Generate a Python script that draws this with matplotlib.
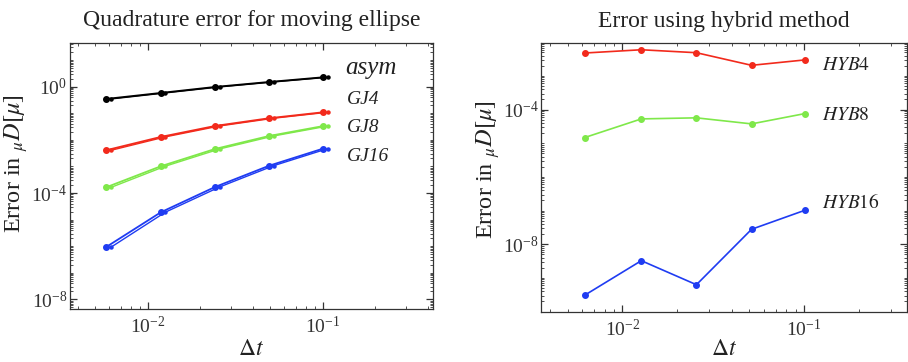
import matplotlib
matplotlib.use('Agg')
import matplotlib.pyplot as plt
from matplotlib.ticker import FixedLocator, NullFormatter, LogLocator

plt.rcParams['font.family'] = ['Liberation Serif', 'DejaVu Serif']
plt.rcParams['mathtext.fontset'] = 'stix'

# ---- data: left panel ----
dt_left = [0.0058, 0.0119, 0.0243, 0.0495, 0.1007]
dt_left_shadow = [0.0062, 0.0126, 0.0258, 0.0525, 0.107]
err_asym = [0.345, 0.58, 0.975, 1.5, 2.25]
err_gj4 = [4.07e-3, 0.0129, 0.0333, 0.065, 0.109]
err_gj8 = [1.65e-4, 1.02e-3, 4.55e-3, 0.014, 0.033]
err_gj16 = [9.4e-7, 1.9e-5, 1.7e-4, 1.07e-3, 4.7e-3]
left_labels = ['asym', 'GJ4', 'GJ8', 'GJ16']

# ---- data: right panel ----
dt_right = [0.00621, 0.01273, 0.0256, 0.0515, 0.101]
err_hyb4 = [4.8e-3, 6.0e-3, 4.9e-3, 2.07e-3, 2.99e-3]
err_hyb8 = [1.48e-5, 5.3e-5, 5.7e-5, 3.77e-5, 7.6e-5]
err_hyb16 = [3.07e-10, 3.26e-9, 6.3e-10, 2.79e-8, 1.02e-7]
right_labels = [r'$\mathit{HYB}4$', r'$\mathit{HYB}8$', r'$\mathit{HYB}16$']

C_BLACK = '#000000'
C_RED = '#f22a1c'
C_GREEN = '#7fe84a'
C_BLUE = '#1f3cf2'

fig = plt.figure(figsize=(9.08, 3.62), dpi=100)
ax1 = fig.add_axes([0.0771, 0.1464, 0.3998, 0.7348])
ax2 = fig.add_axes([0.5961, 0.1373, 0.4031, 0.7431])


def style_axis(ax, ymajor, ydec, ylab_xy):
    ax.set_xscale('log')
    ax.set_yscale('log')
    ax.xaxis.set_major_locator(FixedLocator([1e-2, 1e-1]))
    ax.xaxis.set_minor_locator(LogLocator(base=10, subs=range(2, 10), numticks=20))
    ax.xaxis.set_minor_formatter(NullFormatter())
    ax.yaxis.set_major_locator(FixedLocator(ymajor))
    yminor = []
    for d in ydec:
        for s in range(1, 10):
            v = s * 10.0 ** d
            if v not in ymajor:
                yminor.append(v)
    ax.yaxis.set_minor_locator(FixedLocator(yminor))
    ax.yaxis.set_minor_formatter(NullFormatter())
    ax.tick_params(which='both', direction='in', top=True, right=True,
                   color='#333333')
    ax.tick_params(which='major', length=5, width=0.9, labelsize=14,
                   labelcolor='#333333')
    ax.tick_params(axis='x', which='major', pad=5)
    ax.tick_params(axis='y', which='major', pad=2)
    ax.tick_params(which='minor', length=2.5, width=0.6)
    for sp in ax.spines.values():
        sp.set_color('#333333')
        sp.set_linewidth(0.9)
    ax.set_xlabel(r'$\Delta t$', fontsize=17, labelpad=1, color='#222222')
    ax.set_ylabel(r'Error in ${}_{\mu}D[\mu]$', fontsize=17.5, color='#222222')
    ax.yaxis.set_label_coords(*ylab_xy)


# Left panel
series_left = [(err_asym, C_BLACK), (err_gj4, C_RED), (err_gj8, C_GREEN), (err_gj16, C_BLUE)]
for vals, col in series_left:
    ax1.plot(dt_left_shadow, vals, '-', color=col, lw=1.0, marker='o', ms=2.2)
    ax1.plot(dt_left, vals, '-', color=col, lw=1.3, marker='o', ms=4)
ax1.set_xlim(10 ** -2.444, 10 ** -0.37)
ax1.set_ylim(10 ** -8.36, 10 ** 1.64)
style_axis(ax1, [1e-8, 1e-4, 1e0], range(-9, 2), (-0.11, 0.545))
ax1.set_title('Quadrature error for moving ellipse', fontsize=17, pad=12,
              color='#222222')

lpos = [(0.758, 0.906, 18), (0.763, 0.789, 14), (0.763, 0.684, 14), (0.763, 0.575, 14)]
for lab, (x, y, fs) in zip(left_labels, lpos):
    ax1.text(x, y, lab, transform=ax1.transAxes, fontsize=fs, style='italic',
             ha='left', va='center', color='#222222')

# Right panel
series_right = [(err_hyb4, C_RED), (err_hyb8, C_GREEN), (err_hyb16, C_BLUE)]
for vals, col in series_right:
    ax2.plot(dt_right, vals, '-', color=col, lw=1.2, marker='o', ms=4)
ax2.set_xlim(10 ** -2.446, 10 ** -0.431)
ax2.set_ylim(10 ** -10.02, 10 ** -2.03)
style_axis(ax2, [1e-8, 1e-4], range(-11, -1), (-0.108, 0.529))
ax2.xaxis.labelpad = -1
ax2.set_title('Error using hybrid method', fontsize=17, pad=12, color='#222222')

rpos = [(0.766, 0.919), (0.766, 0.730), (0.766, 0.410)]
for lab, (x, y) in zip(right_labels, rpos):
    ax2.text(x, y, lab, transform=ax2.transAxes, fontsize=14,
             ha='left', va='center', color='#222222')

fig.savefig('out.png', dpi=100)
